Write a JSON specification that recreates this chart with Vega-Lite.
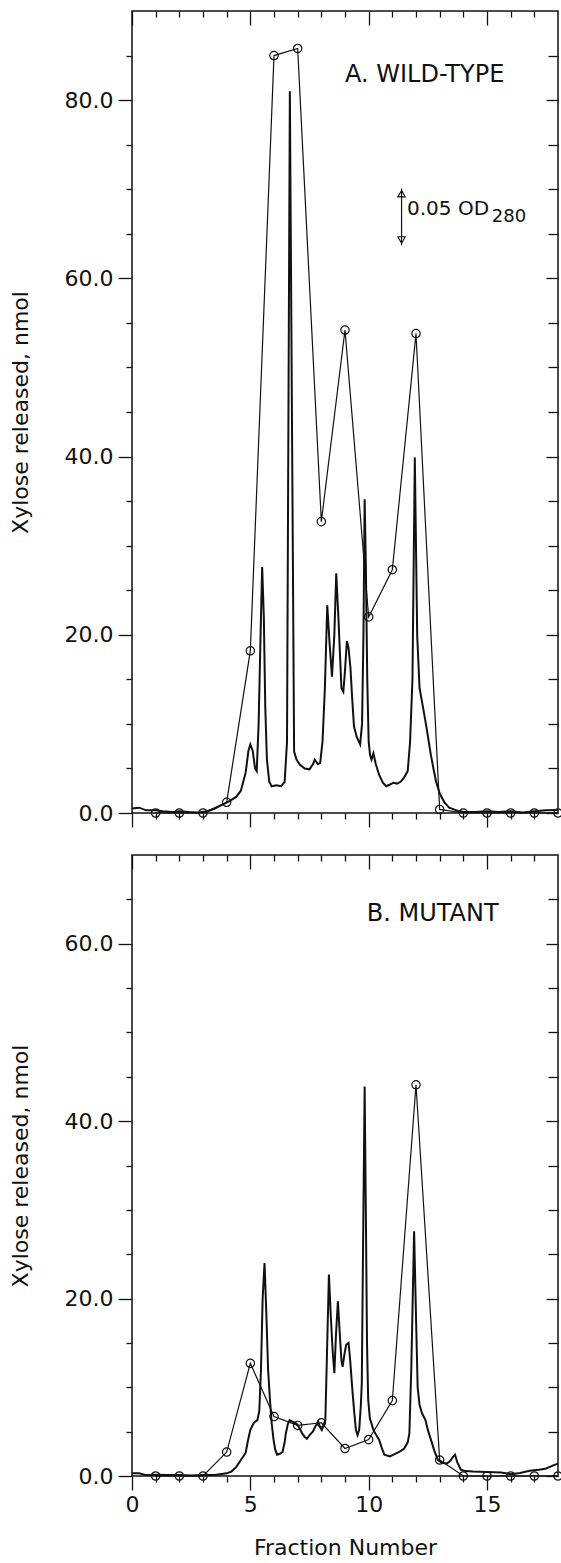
{
  "$schema": "https://vega.github.io/schema/vega-lite/v6.json",
  "padding": {"left": 8, "top": 9, "right": 2, "bottom": 0},
  "background": "white",
  "spacing": 24,
  "config": {
    "font": "DejaVu Sans",
    "view": {"stroke": "#111", "strokeWidth": 1.5},
    "axis": {"grid": false, "domain": false, "tickColor": "#111", "tickWidth": 1.3, "labelColor": "#111", "titleColor": "#111", "labelFont": "DejaVu Sans", "titleFont": "DejaVu Sans", "titleFontWeight": "normal", "labelFlush": false, "labelOverlap": false}
  },
  "datasets": {
    "odA": [
      {"fraction": 0, "od": 0.5}, {"fraction": 0.3, "od": 0.6}, {"fraction": 0.6, "od": 0.3}, {"fraction": 1.0, "od": 0.3},
      {"fraction": 1.3, "od": 0.2}, {"fraction": 1.7, "od": 0.1}, {"fraction": 2.0, "od": 0.2}, {"fraction": 2.4, "od": 0.1},
      {"fraction": 2.8, "od": 0.05}, {"fraction": 3.2, "od": 0.2}, {"fraction": 3.5, "od": 0.5}, {"fraction": 3.8, "od": 0.9},
      {"fraction": 4.1, "od": 1.3}, {"fraction": 4.4, "od": 1.8}, {"fraction": 4.6, "od": 2.5}, {"fraction": 4.8, "od": 4.5},
      {"fraction": 4.92, "od": 7.0}, {"fraction": 5.0, "od": 7.7}, {"fraction": 5.1, "od": 7.0}, {"fraction": 5.2, "od": 5.0},
      {"fraction": 5.27, "od": 4.7}, {"fraction": 5.35, "od": 10}, {"fraction": 5.45, "od": 22}, {"fraction": 5.5, "od": 27.6},
      {"fraction": 5.57, "od": 22}, {"fraction": 5.63, "od": 12}, {"fraction": 5.7, "od": 6}, {"fraction": 5.8, "od": 3.5},
      {"fraction": 5.9, "od": 3.0}, {"fraction": 6.1, "od": 3.1}, {"fraction": 6.3, "od": 3.0}, {"fraction": 6.45, "od": 3.5},
      {"fraction": 6.55, "od": 8}, {"fraction": 6.67, "od": 81}, {"fraction": 6.85, "od": 6.9}, {"fraction": 6.95, "od": 6.0},
      {"fraction": 7.1, "od": 5.4}, {"fraction": 7.3, "od": 5.0}, {"fraction": 7.5, "od": 4.9}, {"fraction": 7.65, "od": 5.5},
      {"fraction": 7.72, "od": 6.0}, {"fraction": 7.85, "od": 5.5}, {"fraction": 7.95, "od": 5.6}, {"fraction": 8.05, "od": 8},
      {"fraction": 8.15, "od": 14}, {"fraction": 8.25, "od": 23.3}, {"fraction": 8.35, "od": 19}, {"fraction": 8.45, "od": 15.3},
      {"fraction": 8.55, "od": 20}, {"fraction": 8.63, "od": 26.9}, {"fraction": 8.72, "od": 22}, {"fraction": 8.85, "od": 14},
      {"fraction": 8.93, "od": 13.6}, {"fraction": 9.0, "od": 16}, {"fraction": 9.08, "od": 19.3}, {"fraction": 9.15, "od": 18.5},
      {"fraction": 9.23, "od": 16.3}, {"fraction": 9.3, "od": 13}, {"fraction": 9.38, "od": 9.7}, {"fraction": 9.5, "od": 8.5},
      {"fraction": 9.64, "od": 7.7}, {"fraction": 9.72, "od": 10}, {"fraction": 9.78, "od": 20}, {"fraction": 9.83, "od": 35.2},
      {"fraction": 9.88, "od": 28}, {"fraction": 9.94, "od": 15}, {"fraction": 10.0, "od": 8}, {"fraction": 10.06, "od": 6.5},
      {"fraction": 10.12, "od": 6.0}, {"fraction": 10.2, "od": 6.7}, {"fraction": 10.3, "od": 5.5}, {"fraction": 10.44, "od": 4.3},
      {"fraction": 10.6, "od": 3.4}, {"fraction": 10.74, "od": 3.0}, {"fraction": 10.9, "od": 3.2}, {"fraction": 11.05, "od": 3.4},
      {"fraction": 11.2, "od": 3.3}, {"fraction": 11.35, "od": 3.5}, {"fraction": 11.5, "od": 4.0}, {"fraction": 11.65, "od": 4.7},
      {"fraction": 11.75, "od": 8}, {"fraction": 11.85, "od": 15}, {"fraction": 11.95, "od": 39.9}, {"fraction": 12.05, "od": 20},
      {"fraction": 12.15, "od": 14}, {"fraction": 12.3, "od": 11.8}, {"fraction": 12.45, "od": 9.5}, {"fraction": 12.63, "od": 6.5},
      {"fraction": 12.75, "od": 4.8}, {"fraction": 12.85, "od": 3.5}, {"fraction": 13.0, "od": 2.2}, {"fraction": 13.2, "od": 1.2},
      {"fraction": 13.4, "od": 0.6}, {"fraction": 13.6, "od": 0.4}, {"fraction": 13.8, "od": 0.2}, {"fraction": 14.0, "od": 0.15},
      {"fraction": 14.5, "od": 0.1}, {"fraction": 15.0, "od": 0.2}, {"fraction": 15.5, "od": 0.1}, {"fraction": 16.0, "od": 0.2},
      {"fraction": 16.5, "od": 0.05}, {"fraction": 17.0, "od": 0.2}, {"fraction": 17.5, "od": 0.3}, {"fraction": 18.0, "od": 0.35}
    ],
    "xyA": [
      {"fraction": 1, "xylose": 0}, {"fraction": 2, "xylose": 0}, {"fraction": 3, "xylose": 0}, {"fraction": 4, "xylose": 1.2},
      {"fraction": 5, "xylose": 18.2}, {"fraction": 6, "xylose": 85.0}, {"fraction": 7, "xylose": 85.8}, {"fraction": 8, "xylose": 32.7},
      {"fraction": 9, "xylose": 54.2}, {"fraction": 10, "xylose": 22.0}, {"fraction": 11, "xylose": 27.3}, {"fraction": 12, "xylose": 53.8},
      {"fraction": 13, "xylose": 0.4}, {"fraction": 14, "xylose": 0}, {"fraction": 15, "xylose": 0}, {"fraction": 16, "xylose": 0},
      {"fraction": 17, "xylose": 0}, {"fraction": 18, "xylose": 0}
    ],
    "odB": [
      {"fraction": 0, "od": 0.3}, {"fraction": 0.3, "od": 0.3}, {"fraction": 0.6, "od": 0.1}, {"fraction": 1.0, "od": 0.15},
      {"fraction": 1.5, "od": 0.1}, {"fraction": 2.0, "od": 0.1}, {"fraction": 2.5, "od": 0.05}, {"fraction": 3.0, "od": 0.1},
      {"fraction": 3.5, "od": 0.1}, {"fraction": 4.0, "od": 0.3}, {"fraction": 4.2, "od": 0.5}, {"fraction": 4.4, "od": 1.0},
      {"fraction": 4.6, "od": 1.8}, {"fraction": 4.8, "od": 2.6}, {"fraction": 4.9, "od": 4}, {"fraction": 5.0, "od": 5.2},
      {"fraction": 5.15, "od": 6.0}, {"fraction": 5.3, "od": 6.3}, {"fraction": 5.38, "od": 7.4}, {"fraction": 5.45, "od": 12},
      {"fraction": 5.52, "od": 20}, {"fraction": 5.6, "od": 24}, {"fraction": 5.68, "od": 18}, {"fraction": 5.75, "od": 12},
      {"fraction": 5.83, "od": 8.6}, {"fraction": 5.9, "od": 6}, {"fraction": 5.98, "od": 4.1}, {"fraction": 6.05, "od": 3},
      {"fraction": 6.13, "od": 2.4}, {"fraction": 6.25, "od": 2.5}, {"fraction": 6.36, "od": 2.7}, {"fraction": 6.45, "od": 3.8},
      {"fraction": 6.5, "od": 4.8}, {"fraction": 6.58, "od": 5.8}, {"fraction": 6.66, "od": 6.3}, {"fraction": 6.8, "od": 6.1},
      {"fraction": 6.96, "od": 5.9}, {"fraction": 7.1, "od": 5.3}, {"fraction": 7.19, "od": 4.8}, {"fraction": 7.3, "od": 4.4},
      {"fraction": 7.39, "od": 4.2}, {"fraction": 7.5, "od": 4.6}, {"fraction": 7.64, "od": 5.0}, {"fraction": 7.75, "od": 5.6},
      {"fraction": 7.87, "od": 6.1}, {"fraction": 7.95, "od": 5.5}, {"fraction": 8.02, "od": 5.2}, {"fraction": 8.1, "od": 5.8},
      {"fraction": 8.17, "od": 6.3}, {"fraction": 8.25, "od": 15}, {"fraction": 8.32, "od": 22.7}, {"fraction": 8.4, "od": 18},
      {"fraction": 8.48, "od": 14}, {"fraction": 8.55, "od": 11.6}, {"fraction": 8.62, "od": 16}, {"fraction": 8.7, "od": 19.7},
      {"fraction": 8.78, "od": 16}, {"fraction": 8.85, "od": 13}, {"fraction": 8.9, "od": 12.3}, {"fraction": 8.98, "od": 13.8},
      {"fraction": 9.05, "od": 14.8}, {"fraction": 9.15, "od": 15}, {"fraction": 9.22, "od": 13}, {"fraction": 9.3, "od": 10.1},
      {"fraction": 9.38, "od": 7.5}, {"fraction": 9.46, "od": 5.2}, {"fraction": 9.53, "od": 4.6}, {"fraction": 9.6, "od": 5.2},
      {"fraction": 9.67, "od": 8}, {"fraction": 9.71, "od": 10.5}, {"fraction": 9.76, "od": 25}, {"fraction": 9.83, "od": 43.9},
      {"fraction": 9.88, "od": 30}, {"fraction": 9.93, "od": 15}, {"fraction": 9.98, "od": 8.6}, {"fraction": 10.05, "od": 6.5},
      {"fraction": 10.2, "od": 5.2}, {"fraction": 10.3, "od": 4.7}, {"fraction": 10.44, "od": 4.1}, {"fraction": 10.55, "od": 3.2},
      {"fraction": 10.66, "od": 2.4}, {"fraction": 10.9, "od": 2.2}, {"fraction": 11.05, "od": 2.4}, {"fraction": 11.2, "od": 2.6},
      {"fraction": 11.35, "od": 2.8}, {"fraction": 11.5, "od": 3.1}, {"fraction": 11.65, "od": 3.8}, {"fraction": 11.72, "od": 4.8},
      {"fraction": 11.8, "od": 12}, {"fraction": 11.92, "od": 27.6}, {"fraction": 12.0, "od": 18}, {"fraction": 12.07, "od": 10},
      {"fraction": 12.15, "od": 8}, {"fraction": 12.25, "od": 7.1}, {"fraction": 12.4, "od": 6.3}, {"fraction": 12.5, "od": 5.2},
      {"fraction": 12.63, "od": 4.1}, {"fraction": 12.78, "od": 2.8}, {"fraction": 12.93, "od": 1.8}, {"fraction": 13.1, "od": 1.5},
      {"fraction": 13.3, "od": 1.4}, {"fraction": 13.45, "od": 1.7}, {"fraction": 13.55, "od": 2.1}, {"fraction": 13.65, "od": 2.4},
      {"fraction": 13.75, "od": 1.5}, {"fraction": 13.9, "od": 0.7}, {"fraction": 14.1, "od": 0.55}, {"fraction": 14.4, "od": 0.5},
      {"fraction": 15.0, "od": 0.45}, {"fraction": 15.6, "od": 0.4}, {"fraction": 16.0, "od": 0.2}, {"fraction": 16.4, "od": 0.35},
      {"fraction": 16.8, "od": 0.6}, {"fraction": 17.2, "od": 0.7}, {"fraction": 17.5, "od": 0.85}, {"fraction": 17.8, "od": 1.2},
      {"fraction": 18.0, "od": 1.4}
    ],
    "xyB": [
      {"fraction": 1, "xylose": 0}, {"fraction": 2, "xylose": 0}, {"fraction": 3, "xylose": 0}, {"fraction": 4, "xylose": 2.7},
      {"fraction": 5, "xylose": 12.7}, {"fraction": 6, "xylose": 6.7}, {"fraction": 7, "xylose": 5.7}, {"fraction": 8, "xylose": 6.0},
      {"fraction": 9, "xylose": 3.1}, {"fraction": 10, "xylose": 4.1}, {"fraction": 11, "xylose": 8.5}, {"fraction": 12, "xylose": 44.1},
      {"fraction": 13, "xylose": 1.8}, {"fraction": 14, "xylose": 0}, {"fraction": 15, "xylose": 0}, {"fraction": 16, "xylose": 0},
      {"fraction": 17, "xylose": 0}, {"fraction": 18, "xylose": 0}
    ],
    "one": [{}]
  },
  "vconcat": [
    {
      "width": 426,
      "height": 802,
      "resolve": {"axis": {"x": "independent", "y": "independent"}},
      "layer": [
        {
          "data": {"name": "odA"},
          "mark": {"type": "line", "color": "#111", "strokeWidth": 2},
          "encoding": {
            "x": {"field": "fraction", "type": "quantitative", "scale": {"domain": [0, 18], "nice": false, "zero": false},
              "axis": {"orient": "bottom", "values": [0,1,2,3,4,5,6,7,8,9,10,11,12,13,14,15,16,17], "labels": false, "title": null,
                "tickSize": {"condition": {"test": "datum.value % 5 === 0", "value": 14}, "value": 6}}},
            "y": {"field": "od", "type": "quantitative", "scale": {"domain": [0, 90], "nice": false, "zero": false},
              "axis": {"orient": "left", "values": [0,5,10,15,20,25,30,35,40,45,50,55,60,65,70,75,80,85], "format": ".1f",
                "labelExpr": "datum.value % 20 === 0 ? datum.label : ''", "labelFontSize": 22, "labelPadding": 5,
                "title": "Xylose released, nmol", "titleFontSize": 22, "titlePadding": 32,
                "tickSize": {"condition": {"test": "datum.value % 20 === 0", "value": 14}, "value": 6}}}
          }
        },
        {
          "data": {"name": "xyA"},
          "mark": {"type": "line", "color": "#111", "strokeWidth": 1.2},
          "encoding": {
            "x": {"field": "fraction", "type": "quantitative",
              "axis": {"orient": "top", "values": [0,1,2,3,4,5,6,7,8,9,10,11,12,13,14,15,16,17], "labels": false, "title": null,
                "tickSize": {"condition": {"test": "datum.value % 5 === 0", "value": -14}, "value": -6}}},
            "y": {"field": "xylose", "type": "quantitative",
              "axis": {"orient": "right", "values": [0,5,10,15,20,25,30,35,40,45,50,55,60,65,70,75,80,85], "labels": false, "title": null,
                "tickSize": {"condition": {"test": "datum.value % 20 === 0", "value": -12}, "value": -10}}}
          }
        },
        {
          "data": {"name": "xyA"},
          "mark": {"type": "point", "shape": "circle", "filled": false, "size": 70, "stroke": "#111", "strokeWidth": 1.2, "opacity": 1, "clip": false},
          "encoding": {
            "x": {"field": "fraction", "type": "quantitative", "axis": null},
            "y": {"field": "xylose", "type": "quantitative", "axis": null}
          }
        },
        {
          "data": {"name": "one"},
          "mark": {"type": "text", "align": "left", "baseline": "middle", "fontSize": 24, "color": "#111"},
          "encoding": {
            "x": {"datum": 9.0, "type": "quantitative", "axis": null},
            "y": {"datum": 82.8, "type": "quantitative", "axis": null},
            "text": {"value": "A. WILD-TYPE"}
          }
        },
        {
          "data": {"name": "one"},
          "mark": {"type": "rule", "color": "#111", "strokeWidth": 1.2},
          "encoding": {
            "x": {"datum": 11.39, "type": "quantitative", "axis": null},
            "y": {"datum": 63.7, "type": "quantitative", "axis": null},
            "y2": {"datum": 70.1}
          }
        },
        {
          "data": {"name": "one"},
          "mark": {"type": "point", "shape": "triangle-up", "filled": false, "size": 55, "stroke": "#111", "strokeWidth": 1.1, "opacity": 1},
          "encoding": {
            "x": {"datum": 11.39, "type": "quantitative", "axis": null},
            "y": {"datum": 69.5, "type": "quantitative", "axis": null}
          }
        },
        {
          "data": {"name": "one"},
          "mark": {"type": "point", "shape": "triangle-down", "filled": false, "size": 55, "stroke": "#111", "strokeWidth": 1.1, "opacity": 1},
          "encoding": {
            "x": {"datum": 11.39, "type": "quantitative", "axis": null},
            "y": {"datum": 64.3, "type": "quantitative", "axis": null}
          }
        },
        {
          "data": {"name": "one"},
          "mark": {"type": "text", "align": "left", "baseline": "middle", "fontSize": 20, "color": "#111"},
          "encoding": {
            "x": {"datum": 11.62, "type": "quantitative", "axis": null},
            "y": {"datum": 67.8, "type": "quantitative", "axis": null},
            "text": {"value": "0.05 OD"}
          }
        },
        {
          "data": {"name": "one"},
          "mark": {"type": "text", "align": "left", "baseline": "middle", "fontSize": 18, "color": "#111"},
          "encoding": {
            "x": {"datum": 15.2, "type": "quantitative", "axis": null},
            "y": {"datum": 66.9, "type": "quantitative", "axis": null},
            "text": {"value": "280"}
          }
        }
      ]
    },
    {
      "width": 426,
      "height": 621,
      "resolve": {"axis": {"x": "independent", "y": "independent"}},
      "layer": [
        {
          "data": {"name": "odB"},
          "mark": {"type": "line", "color": "#111", "strokeWidth": 2},
          "encoding": {
            "x": {"field": "fraction", "type": "quantitative", "scale": {"domain": [0, 18], "nice": false, "zero": false},
              "axis": {"orient": "bottom", "values": [0,1,2,3,4,5,6,7,8,9,10,11,12,13,14,15,16,17],
                "labelExpr": "datum.value % 5 === 0 ? datum.label : ''", "labelFontSize": 22, "labelPadding": 4,
                "title": "Fraction Number", "titleFontSize": 22, "titlePadding": 22,
                "tickSize": {"condition": {"test": "datum.value % 5 === 0", "value": 14}, "value": 6}}},
            "y": {"field": "od", "type": "quantitative", "scale": {"domain": [0, 70], "nice": false, "zero": false},
              "axis": {"orient": "left", "values": [0,5,10,15,20,25,30,35,40,45,50,55,60,65], "format": ".1f",
                "labelExpr": "datum.value % 20 === 0 ? datum.label : ''", "labelFontSize": 22, "labelPadding": 5,
                "title": "Xylose released, nmol", "titleFontSize": 22, "titlePadding": 32,
                "tickSize": {"condition": {"test": "datum.value % 20 === 0", "value": 14}, "value": 6}}}
          }
        },
        {
          "data": {"name": "xyB"},
          "mark": {"type": "line", "color": "#111", "strokeWidth": 1.2},
          "encoding": {
            "x": {"field": "fraction", "type": "quantitative",
              "axis": {"orient": "top", "values": [0,1,2,3,4,5,6,7,8,9,10,11,12,13,14,15,16,17], "labels": false, "title": null,
                "tickSize": {"condition": {"test": "datum.value % 5 === 0", "value": -14}, "value": -6}}},
            "y": {"field": "xylose", "type": "quantitative",
              "axis": {"orient": "right", "values": [0,5,10,15,20,25,30,35,40,45,50,55,60,65], "labels": false, "title": null,
                "tickSize": {"condition": {"test": "datum.value % 20 === 0", "value": -12}, "value": -10}}}
          }
        },
        {
          "data": {"name": "xyB"},
          "mark": {"type": "point", "shape": "circle", "filled": false, "size": 70, "stroke": "#111", "strokeWidth": 1.2, "opacity": 1, "clip": false},
          "encoding": {
            "x": {"field": "fraction", "type": "quantitative", "axis": null},
            "y": {"field": "xylose", "type": "quantitative", "axis": null}
          }
        },
        {
          "data": {"name": "one"},
          "mark": {"type": "text", "align": "left", "baseline": "middle", "fontSize": 24, "color": "#111"},
          "encoding": {
            "x": {"datum": 9.92, "type": "quantitative", "axis": null},
            "y": {"datum": 63.3, "type": "quantitative", "axis": null},
            "text": {"value": "B. MUTANT"}
          }
        }
      ]
    }
  ]
}
